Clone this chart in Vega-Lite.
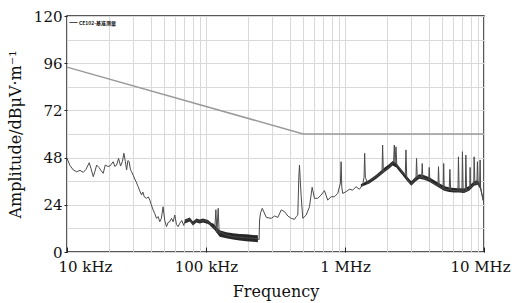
{
  "$schema": "https://vega.github.io/schema/vega-lite/v6.json",
  "width": 417,
  "height": 236,
  "autosize": {"type": "none"},
  "padding": {"left": 67, "top": 16, "right": 28, "bottom": 51},
  "background": "white",
  "config": {
    "view": {"stroke": "#222", "strokeWidth": 1.5},
    "font": "DejaVu Serif"
  },
  "datasets": {
    "limit": [
      {"f": 10000, "v": 94},
      {"f": 500000, "v": 60},
      {"f": 10000000, "v": 60}
    ],
    "band": [
      {"f": 70330, "lo": 14.5, "hi": 16.5, "g": "a"},
      {"f": 76380, "lo": 15.5, "hi": 17.5, "g": "a"},
      {"f": 80660, "lo": 13.5, "hi": 15.5, "g": "a"},
      {"f": 85330, "lo": 15, "hi": 17, "g": "a"},
      {"f": 90110, "lo": 14.5, "hi": 16.5, "g": "a"},
      {"f": 95170, "lo": 15, "hi": 17, "g": "a"},
      {"f": 103400, "lo": 14.3, "hi": 16.3, "g": "a"},
      {"f": 109400, "lo": 12.8, "hi": 14.8, "g": "a"},
      {"f": 113000, "lo": 12, "hi": 14.5, "g": "a"},
      {"f": 125400, "lo": 7.8, "hi": 11, "g": "a"},
      {"f": 140100, "lo": 7, "hi": 10, "g": "a"},
      {"f": 156300, "lo": 6.3, "hi": 9.5, "g": "a"},
      {"f": 174600, "lo": 5.8, "hi": 9.2, "g": "a"},
      {"f": 195000, "lo": 5.5, "hi": 9, "g": "a"},
      {"f": 217500, "lo": 5.2, "hi": 8.7, "g": "a"},
      {"f": 236200, "lo": 5, "hi": 8.5, "g": "a"},
      {"f": 1300000, "lo": 33, "hi": 34.5, "g": "b"},
      {"f": 1497000, "lo": 34.8, "hi": 36.8, "g": "b"},
      {"f": 1680000, "lo": 37.3, "hi": 39.3, "g": "b"},
      {"f": 1918000, "lo": 40.5, "hi": 42.8, "g": "b"},
      {"f": 2084000, "lo": 42.5, "hi": 44.8, "g": "b"},
      {"f": 2201000, "lo": 44, "hi": 46.3, "g": "b"},
      {"f": 2339000, "lo": 43, "hi": 45.3, "g": "b"},
      {"f": 2458000, "lo": 41, "hi": 43.3, "g": "b"},
      {"f": 2595000, "lo": 39, "hi": 41.3, "g": "b"},
      {"f": 2805000, "lo": 36, "hi": 38.3, "g": "b"},
      {"f": 2998000, "lo": 33.7, "hi": 36, "g": "b"},
      {"f": 3202000, "lo": 35.7, "hi": 38, "g": "b"},
      {"f": 3421000, "lo": 37.2, "hi": 39.5, "g": "b"},
      {"f": 3715000, "lo": 36.7, "hi": 39, "g": "b"},
      {"f": 4036000, "lo": 35.7, "hi": 38, "g": "b"},
      {"f": 4384000, "lo": 34.2, "hi": 36.5, "g": "b"},
      {"f": 4761000, "lo": 32.7, "hi": 35, "g": "b"},
      {"f": 5172000, "lo": 31.2, "hi": 33.5, "g": "b"},
      {"f": 5617000, "lo": 30.5, "hi": 32.8, "g": "b"},
      {"f": 6101000, "lo": 30.3, "hi": 32.6, "g": "b"},
      {"f": 6625000, "lo": 30.2, "hi": 32.4, "g": "b"},
      {"f": 7196000, "lo": 30, "hi": 32.3, "g": "b"},
      {"f": 7816000, "lo": 31.2, "hi": 33.5, "g": "b"},
      {"f": 8492000, "lo": 33.7, "hi": 36, "g": "b"},
      {"f": 9011000, "lo": 34.2, "hi": 36.5, "g": "b"},
      {"f": 9376000, "lo": 32.2, "hi": 34.5, "g": "b"},
      {"f": 9851000, "lo": 25.5, "hi": 27.5, "g": "b"}
    ],
    "trace": [
      {"f": 10000, "v": 47.6}, {"f": 10500, "v": 44}, {"f": 11100, "v": 41.7}, {"f": 11740, "v": 40.8},
      {"f": 12400, "v": 41.5}, {"f": 13090, "v": 40.5}, {"f": 13690, "v": 42}, {"f": 14460, "v": 45.4},
      {"f": 14870, "v": 42.5}, {"f": 15450, "v": 38.3}, {"f": 15890, "v": 41}, {"f": 16340, "v": 44.2},
      {"f": 16970, "v": 43}, {"f": 17540, "v": 41.5}, {"f": 18220, "v": 40}, {"f": 18840, "v": 44.2},
      {"f": 19690, "v": 43.5}, {"f": 20360, "v": 43.7}, {"f": 21500, "v": 45.9}, {"f": 22100, "v": 43.5},
      {"f": 22740, "v": 44.2}, {"f": 23500, "v": 47.6}, {"f": 24290, "v": 43.7}, {"f": 25030, "v": 46},
      {"f": 25660, "v": 50.2}, {"f": 26300, "v": 46}, {"f": 26840, "v": 41.7}, {"f": 27420, "v": 46.5},
      {"f": 28010, "v": 45.9}, {"f": 28570, "v": 42}, {"f": 29140, "v": 40.8}, {"f": 29920, "v": 39.1},
      {"f": 30770, "v": 37}, {"f": 31540, "v": 35.5}, {"f": 32500, "v": 33.2}, {"f": 33420, "v": 31},
      {"f": 34380, "v": 29}, {"f": 35130, "v": 30.5}, {"f": 36000, "v": 28}, {"f": 37340, "v": 27.3},
      {"f": 38470, "v": 28}, {"f": 39430, "v": 26.4}, {"f": 40420, "v": 24}, {"f": 41640, "v": 21.4},
      {"f": 42820, "v": 19.5}, {"f": 44040, "v": 17.1}, {"f": 45220, "v": 18}, {"f": 46520, "v": 15.4},
      {"f": 47700, "v": 17}, {"f": 49130, "v": 23}, {"f": 50530, "v": 16}, {"f": 51970, "v": 12.9},
      {"f": 53360, "v": 15}, {"f": 54870, "v": 15.4}, {"f": 56430, "v": 17.1}, {"f": 57970, "v": 15.4},
      {"f": 59620, "v": 18.8}, {"f": 61320, "v": 14}, {"f": 62950, "v": 12.9}, {"f": 64740, "v": 14.6},
      {"f": 66920, "v": 16}, {"f": 69170, "v": 13.5}, {"f": 70330, "v": 15.4}, {"f": 76380, "v": 17.1},
      {"f": 80660, "v": 13.7}, {"f": 85330, "v": 16.3}, {"f": 90110, "v": 15.4}, {"f": 95170, "v": 16.3},
      {"f": 103400, "v": 15.4}, {"f": 109400, "v": 12.9}, {"f": 115500, "v": 11.2}, {"f": 117800, "v": 21.5},
      {"f": 119800, "v": 10}, {"f": 122400, "v": 22.2}, {"f": 124400, "v": 9.5}, {"f": 125400, "v": 10.3},
      {"f": 140100, "v": 8.6}, {"f": 156300, "v": 7.8}, {"f": 174600, "v": 7.5}, {"f": 195000, "v": 7.2},
      {"f": 217500, "v": 7}, {"f": 236200, "v": 6.8}, {"f": 240900, "v": 6.2}, {"f": 242900, "v": 16.3},
      {"f": 247000, "v": 20}, {"f": 254100, "v": 22.2}, {"f": 271400, "v": 17.6}, {"f": 294800, "v": 17.1},
      {"f": 311300, "v": 18.3}, {"f": 328800, "v": 17.6}, {"f": 347800, "v": 21.4}, {"f": 367300, "v": 20.5},
      {"f": 387900, "v": 18.3}, {"f": 410400, "v": 17.1}, {"f": 433400, "v": 16.6}, {"f": 445700, "v": 18},
      {"f": 457700, "v": 18.8}, {"f": 465200, "v": 38}, {"f": 470600, "v": 44.2}, {"f": 476900, "v": 36},
      {"f": 484100, "v": 28.1}, {"f": 497000, "v": 17.1}, {"f": 525700, "v": 18.8}, {"f": 555200, "v": 23},
      {"f": 580500, "v": 32.9}, {"f": 602900, "v": 27.3}, {"f": 636800, "v": 27.3}, {"f": 673600, "v": 29},
      {"f": 711400, "v": 31.2}, {"f": 751300, "v": 26.4}, {"f": 794700, "v": 28.1}, {"f": 839300, "v": 28.1},
      {"f": 886300, "v": 29.8}, {"f": 926800, "v": 35}, {"f": 937600, "v": 45.9}, {"f": 948400, "v": 33},
      {"f": 962700, "v": 29.8}, {"f": 1018000, "v": 30.7}, {"f": 1075000, "v": 31.9}, {"f": 1136000, "v": 31.5},
      {"f": 1201000, "v": 33.2}, {"f": 1269000, "v": 31.9}, {"f": 1340000, "v": 34.1}, {"f": 1371000, "v": 38},
      {"f": 1385000, "v": 50.2}, {"f": 1401000, "v": 38}, {"f": 1455000, "v": 34.9}, {"f": 1497000, "v": 35.7},
      {"f": 1573000, "v": 37}, {"f": 1672000, "v": 38.3}, {"f": 1766000, "v": 39.5}, {"f": 1847000, "v": 40},
      {"f": 1865000, "v": 54.4}, {"f": 1887000, "v": 40.5}, {"f": 1983000, "v": 42}, {"f": 2084000, "v": 43.4},
      {"f": 2201000, "v": 45.1}, {"f": 2237000, "v": 46}, {"f": 2263000, "v": 54.4}, {"f": 2289000, "v": 45},
      {"f": 2327000, "v": 53.5}, {"f": 2359000, "v": 44}, {"f": 2527000, "v": 41.7}, {"f": 2595000, "v": 40},
      {"f": 2714000, "v": 39}, {"f": 2745000, "v": 51.9}, {"f": 2782000, "v": 37.5}, {"f": 2983000, "v": 34.1},
      {"f": 3097000, "v": 36}, {"f": 3240000, "v": 37}, {"f": 3272000, "v": 47.6}, {"f": 3309000, "v": 38},
      {"f": 3421000, "v": 38.3}, {"f": 3560000, "v": 37.7}, {"f": 3594000, "v": 45}, {"f": 3630000, "v": 37.6},
      {"f": 3715000, "v": 37.5}, {"f": 4000000, "v": 36.7}, {"f": 4036000, "v": 43}, {"f": 4080000, "v": 36.4},
      {"f": 4241000, "v": 35.5},
      {"f": 4508000, "v": 34.1}, {"f": 4667000, "v": 33.5}, {"f": 4706000, "v": 43.4}, {"f": 4761000, "v": 33.5},
      {"f": 5080000, "v": 32.2}, {"f": 5129000, "v": 45}, {"f": 5172000, "v": 32},
      {"f": 5617000, "v": 31.5}, {"f": 5682000, "v": 42}, {"f": 5757000, "v": 31.5},
      {"f": 6101000, "v": 31.2}, {"f": 6495000, "v": 31}, {"f": 6550000, "v": 48.4}, {"f": 6625000, "v": 31},
      {"f": 6939000, "v": 30.8}, {"f": 6997000, "v": 51}, {"f": 7079000, "v": 30.8}, {"f": 7340000, "v": 31},
      {"f": 7401000, "v": 49.3}, {"f": 7500000, "v": 31}, {"f": 7816000, "v": 32},
      {"f": 7900000, "v": 32.5}, {"f": 7947000, "v": 43}, {"f": 8000000, "v": 32.8},
      {"f": 8214000, "v": 33.5},
      {"f": 8435000, "v": 34}, {"f": 8492000, "v": 48.4}, {"f": 8604000, "v": 34.5}, {"f": 8892000, "v": 35},
      {"f": 8966000, "v": 45.9}, {"f": 9072000, "v": 34.5}, {"f": 9300000, "v": 33.5}, {"f": 9376000, "v": 46.8},
      {"f": 9450000, "v": 33}, {"f": 9851000, "v": 26.4}
    ]
  },
  "encoding": {
    "x": {
      "field": "f",
      "type": "quantitative",
      "title": "Frequency",
      "scale": {"type": "log", "domain": [10000, 10000000], "nice": false},
      "axis": {
        "values": [10000, 20000, 30000, 40000, 50000, 60000, 70000, 80000, 90000,
                   100000, 200000, 300000, 400000, 500000, 600000, 700000, 800000, 900000,
                   1000000, 2000000, 3000000, 4000000, 5000000, 6000000, 7000000, 8000000, 9000000, 10000000],
        "labelExpr": "datum.value == 10000 ? '10 kHz' : datum.value == 100000 ? '100 kHz' : datum.value == 1000000 ? '1 MHz' : datum.value == 10000000 ? '10 MHz' : ''",
        "labelOverlap": false,
        "labelBound": false,
        "labelFontSize": 15,
        "labelColor": "#111",
        "labelPadding": 12,
        "labelAlign": {"condition": {"test": "datum.value == 10000", "value": "left"}, "value": "center"},
        "labelOffset": {"condition": [{"test": "datum.value == 10000", "value": -9}, {"test": "datum.value == 10000000", "value": -4}], "value": 0},
        "grid": true,
        "gridColor": "#d9d9d9",
        "gridWidth": 1,
        "domain": false,
        "tickSize": -5,
        "tickColor": "#222",
        "tickOpacity": {"condition": {"test": "datum.value == 10000 || datum.value == 100000 || datum.value == 1000000 || datum.value == 10000000", "value": 1}, "value": 0},
        "titleFontSize": 16,
        "titleFontWeight": "normal",
        "titleColor": "#111",
        "titlePadding": 9
      }
    },
    "y": {
      "field": "v",
      "type": "quantitative",
      "title": "Amplitude/dBμV·m⁻¹",
      "scale": {"domain": [0, 120], "nice": false},
      "axis": {
        "values": [0, 12, 24, 36, 48, 60, 72, 84, 96, 108, 120],
        "labelExpr": "datum.value % 24 == 0 ? datum.label : ''",
        "labelFontSize": 15,
        "labelColor": "#111",
        "labelPadding": 2,
        "grid": true,
        "gridColor": "#d9d9d9",
        "domain": false,
        "tickSize": 3,
        "tickColor": "#222",
        "tickOpacity": {"condition": {"test": "datum.value % 24 == 0", "value": 1}, "value": 0},
        "titleFontSize": 16,
        "titleFontWeight": "normal",
        "titleColor": "#111",
        "titlePadding": 10
      }
    }
  },
  "layer": [
    {
      "data": {"name": "band"},
      "mark": {"type": "area", "color": "#111111", "opacity": 0.9},
      "encoding": {
        "y": {"field": "lo", "type": "quantitative", "title": "Amplitude/dBμV·m⁻¹"},
        "y2": {"field": "hi"},
        "detail": {"field": "g"}
      }
    },
    {
      "data": {"name": "limit"},
      "mark": {"type": "line", "color": "#9a9a9a", "strokeWidth": 1.5},
      "encoding": {}
    },
    {
      "data": {"name": "trace"},
      "mark": {"type": "line", "strokeWidth": 1},
      "encoding": {
        "color": {
          "datum": "CE102-基准测量",
          "type": "nominal",
          "scale": {"range": ["#4a4a4a"]},
          "legend": {
            "orient": "top-left",
            "offset": 2,
            "title": null,
            "padding": 0,
            "labelFont": "Noto Sans CJK SC",
            "labelFontSize": 5,
            "labelFontWeight": "bold",
            "labelColor": "#111",
            "labelOffset": 1,
            "symbolType": "stroke",
            "symbolSize": 64,
            "symbolStrokeWidth": 1
          }
        }
      }
    }
  ]
}
